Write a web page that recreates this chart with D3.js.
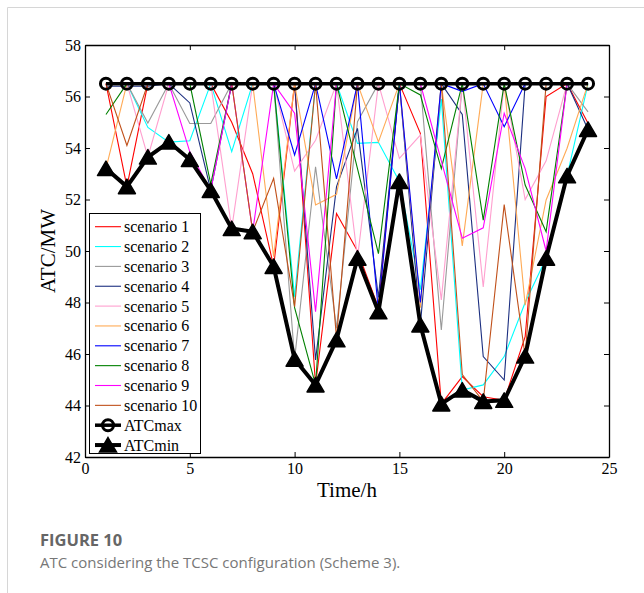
<html>
<head>
    <title>ATC considering the TCSC configuration</title>
    <script src="https://d3js.org/d3.v7.min.js"></script>
    <style>
        body { margin: 0; background: #fff; }
    </style>
</head>
<body>
    <svg id="atcchart" width="644" height="593"></svg>

    <script>
        // hours on the x axis
        const hours = [1, 2, 3, 4, 5, 6, 7, 8, 9, 10, 11, 12, 13, 14, 15, 16, 17, 18, 19, 20, 21, 22, 23, 24];

        const scenario1  = [56.5, 52.5, 56.5, 56.5, 56.5, 56.5, 55.0, 53.0, 49.4, 56.5, 44.8, 51.46, 50.0, 47.8, 56.5, 54.57, 44.06, 45.12, 44.34, 44.2, 46.67, 56.0, 56.5, 54.96];
        const scenario2  = [56.5, 56.5, 54.8, 54.23, 54.28, 56.5, 53.86, 56.5, 56.5, 48.23, 56.5, 56.5, 54.18, 54.22, 52.7, 48.5, 55.9, 44.6, 44.8, 45.9, 48.0, 49.72, 52.92, 56.5];
        const scenario3  = [56.5, 56.5, 54.97, 56.5, 54.95, 54.95, 56.5, 56.5, 56.5, 45.8, 53.27, 47.0, 55.02, 56.5, 56.5, 56.5, 46.93, 56.5, 56.5, 56.5, 56.5, 56.5, 56.5, 55.4];
        const scenario4  = [56.4, 56.4, 56.4, 56.5, 55.75, 52.35, 56.5, 56.5, 56.5, 56.5, 45.77, 52.5, 54.76, 48.2, 56.5, 47.13, 56.5, 55.3, 45.9, 44.99, 56.5, 56.5, 56.5, 54.72];
        const scenario5  = [56.5, 56.5, 53.65, 56.5, 56.5, 56.5, 50.87, 56.5, 56.5, 53.1, 54.3, 56.5, 49.72, 56.5, 53.6, 54.5, 48.1, 56.5, 48.6, 56.5, 52.0, 53.5, 56.5, 56.5];
        const scenario6  = [53.2, 56.5, 56.5, 56.5, 56.5, 56.5, 56.5, 56.5, 49.78, 56.5, 51.79, 52.2, 56.5, 54.24, 56.5, 47.8, 56.5, 50.2, 56.5, 56.5, 47.9, 51.98, 53.99, 56.5];
        const scenario7  = [56.5, 56.5, 56.5, 56.5, 56.5, 56.5, 56.5, 56.5, 56.5, 53.73, 56.5, 52.8, 56.5, 47.64, 56.5, 48.0, 56.5, 56.2, 56.5, 54.83, 56.5, 56.5, 56.5, 56.5];
        const scenario8  = [55.3, 56.5, 56.5, 56.5, 56.5, 52.6, 56.5, 56.5, 56.5, 47.8, 44.8, 56.5, 53.2, 49.9, 56.5, 56.06, 53.2, 56.5, 51.2, 56.5, 52.56, 50.75, 56.5, 56.5];
        const scenario9  = [56.5, 56.5, 56.5, 56.5, 53.85, 52.35, 56.5, 50.75, 56.5, 55.35, 47.64, 56.5, 56.5, 56.5, 56.5, 56.5, 53.5, 50.5, 50.9, 55.35, 53.2, 50.0, 56.5, 56.5];
        const scenario10 = [56.5, 54.1, 56.5, 56.5, 56.5, 56.5, 56.5, 50.75, 52.82, 47.84, 56.5, 46.6, 56.5, 56.5, 56.5, 56.5, 56.5, 45.2, 44.16, 51.8, 45.92, 56.5, 56.5, 56.5];

        const atcMax = [56.5, 56.5, 56.5, 56.5, 56.5, 56.5, 56.5, 56.5, 56.5, 56.5, 56.5, 56.5, 56.5, 56.5, 56.5, 56.5, 56.5, 56.5, 56.5, 56.5, 56.5, 56.5, 56.5, 56.5];
        const atcMin = [53.2, 52.5, 53.65, 54.23, 53.55, 52.35, 50.87, 50.75, 49.4, 45.8, 44.8, 46.55, 49.72, 47.64, 52.7, 47.13, 44.06, 44.6, 44.16, 44.2, 45.92, 49.72, 52.92, 54.72];

        const scenarioNames = ['scenario 1', 'scenario 2', 'scenario 3', 'scenario 4', 'scenario 5',
                               'scenario 6', 'scenario 7', 'scenario 8', 'scenario 9', 'scenario 10'];
        const scenarioValues = [scenario1, scenario2, scenario3, scenario4, scenario5,
                                scenario6, scenario7, scenario8, scenario9, scenario10];
        const scenarioColors = ['#ff0000', '#00ffff', '#999999', '#1c2f80', '#ff9fcf',
                                '#ffaa55', '#0000ff', '#008000', '#ff00ff', '#c0501a'];

        const xTicks = [0, 5, 10, 15, 20, 25];
        const yTicks = [42, 44, 46, 48, 50, 52, 54, 56, 58];

        const svg = d3.select('svg#atcchart');
        const width = +svg.attr('width');
        const height = +svg.attr('height');

        const margins = { top: 45, right: 35, bottom: 136, left: 85 };
        const chartWidth = width - margins.left - margins.right;
        const chartHeight = height - margins.top - margins.bottom;

        // card frame around the figure
        svg.append('path')
           .attr('d', `M7.5,${height} L7.5,7.5 L${width},7.5`)
           .attr('fill', 'none')
           .attr('stroke', '#d6d6d6')
           .attr('stroke-width', 1);

        const chartArea = svg.append('g')
                             .attr('transform', `translate(${margins.left}, ${margins.top})`);

        const xScale = d3.scaleLinear().domain([0, 25]).range([0, chartWidth]);
        const yScale = d3.scaleLinear().domain([42, 58]).range([chartHeight, 0]);

        const serif = 'Liberation Serif, Times New Roman, serif';

        function styleAxis(g) {
            g.selectAll('path.domain').attr('stroke', '#000').attr('stroke-width', 1.3);
            g.selectAll('line').attr('stroke', '#000');
            g.selectAll('text')
             .attr('fill', '#000')
             .style('font-family', serif)
             .style('font-size', '16px');
        }

        chartArea.append('g')
                 .attr('transform', `translate(0, ${chartHeight})`)
                 .call(d3.axisBottom(xScale).tickValues(xTicks).tickSizeInner(-5).tickSizeOuter(0).tickPadding(6))
                 .call(styleAxis);

        chartArea.append('g')
                 .call(d3.axisTop(xScale).tickValues(xTicks).tickSizeInner(-5).tickSizeOuter(0).tickFormat(''))
                 .call(styleAxis);

        chartArea.append('g')
                 .call(d3.axisLeft(yScale).tickValues(yTicks).tickSizeInner(-5).tickSizeOuter(0).tickPadding(4))
                 .call(styleAxis);

        chartArea.append('g')
                 .attr('transform', `translate(${chartWidth}, 0)`)
                 .call(d3.axisRight(yScale).tickValues(yTicks).tickSizeInner(-5).tickSizeOuter(0).tickFormat(''))
                 .call(styleAxis);

        const line = d3.line()
                       .x((d, i) => xScale(hours[i]))
                       .y(d => yScale(d));

        chartArea.append('g')
                 .selectAll('path')
                 .data(scenarioValues)
                 .enter()
                 .append('path')
                 .attr('d', d => line(d))
                 .attr('fill', 'none')
                 .attr('stroke', (d, i) => scenarioColors[i])
                 .attr('stroke-width', 1.1);

        const trianglePath = 'M0,-7.5 L8.5,7 L-8.5,7 Z';

        // ATCmax
        chartArea.append('path')
                 .attr('d', line(atcMax))
                 .attr('fill', 'none')
                 .attr('stroke', '#000')
                 .attr('stroke-width', 3.5);
        chartArea.append('g')
                 .selectAll('circle')
                 .data(atcMax)
                 .enter()
                 .append('circle')
                 .attr('cx', (d, i) => xScale(hours[i]))
                 .attr('cy', d => yScale(d))
                 .attr('r', 5.5)
                 .attr('fill', 'none')
                 .attr('stroke', '#000')
                 .attr('stroke-width', 3);

        // ATCmin
        chartArea.append('path')
                 .attr('d', line(atcMin))
                 .attr('fill', 'none')
                 .attr('stroke', '#000')
                 .attr('stroke-width', 4)
                 .attr('stroke-linejoin', 'round');
        chartArea.append('g')
                 .selectAll('path')
                 .data(atcMin)
                 .enter()
                 .append('path')
                 .attr('d', trianglePath)
                 .attr('transform', (d, i) => `translate(${xScale(hours[i])}, ${yScale(d)})`)
                 .attr('fill', '#000')
                 .attr('stroke', '#000')
                 .attr('stroke-width', 1.5)
                 .attr('stroke-linejoin', 'round');

        // legend
        const legend = svg.append('g').attr('transform', 'translate(89.5, 213.5)');
        legend.append('rect')
              .attr('width', 111)
              .attr('height', 240)
              .attr('fill', '#fff')
              .attr('stroke', '#000')
              .attr('stroke-width', 1);

        const legendItems = scenarioNames.map((name, i) => ({ name: name, color: scenarioColors[i], width: 1.1 }))
                                         .concat([{ name: 'ATCmax', color: '#000', width: 3.5, marker: 'circle' },
                                                  { name: 'ATCmin', color: '#000', width: 4, marker: 'triangle' }]);
        const rowGap = 19.85;
        legendItems.forEach((item, i) => {
            const y = 13.2 + i * rowGap;
            legend.append('line')
                  .attr('x1', 5.5).attr('x2', 31.5)
                  .attr('y1', y).attr('y2', y)
                  .attr('stroke', item.color)
                  .attr('stroke-width', item.width);
            if (item.marker === 'circle') {
                legend.append('circle')
                      .attr('cx', 18.5).attr('cy', y).attr('r', 5.5)
                      .attr('fill', 'none').attr('stroke', '#000').attr('stroke-width', 3);
            }
            if (item.marker === 'triangle') {
                legend.append('path')
                      .attr('d', trianglePath)
                      .attr('transform', `translate(18.5, ${y})`)
                      .attr('fill', '#000').attr('stroke', '#000').attr('stroke-width', 1.5);
            }
            legend.append('text')
                  .attr('x', 34.5)
                  .attr('y', y + 5.5)
                  .style('font-family', serif)
                  .style('font-size', '16px')
                  .text(item.name);
        });

        // axis titles
        svg.append('text')
           .attr('x', margins.left + chartWidth / 2)
           .attr('y', 497)
           .attr('text-anchor', 'middle')
           .style('font-family', serif)
           .style('font-size', '21px')
           .text('Time/h');

        svg.append('text')
           .attr('transform', `translate(55, ${margins.top + chartHeight / 2}) rotate(-90)`)
           .attr('text-anchor', 'middle')
           .style('font-family', serif)
           .style('font-size', '21px')
           .text('ATC/MW');

        // caption
        svg.append('text')
           .attr('x', 40)
           .attr('y', 546)
           .attr('fill', '#666')
           .style('font-family', 'Open Sans, sans-serif')
           .style('font-weight', 'bold')
           .style('font-size', '16.5px')
           .text('FIGURE 10');

        svg.append('text')
           .attr('x', 40)
           .attr('y', 568)
           .attr('fill', '#777')
           .style('font-family', 'Open Sans, sans-serif')
           .style('font-size', '15px')
           .text('ATC considering the TCSC configuration (Scheme 3).');
    </script>
</body>
</html>
